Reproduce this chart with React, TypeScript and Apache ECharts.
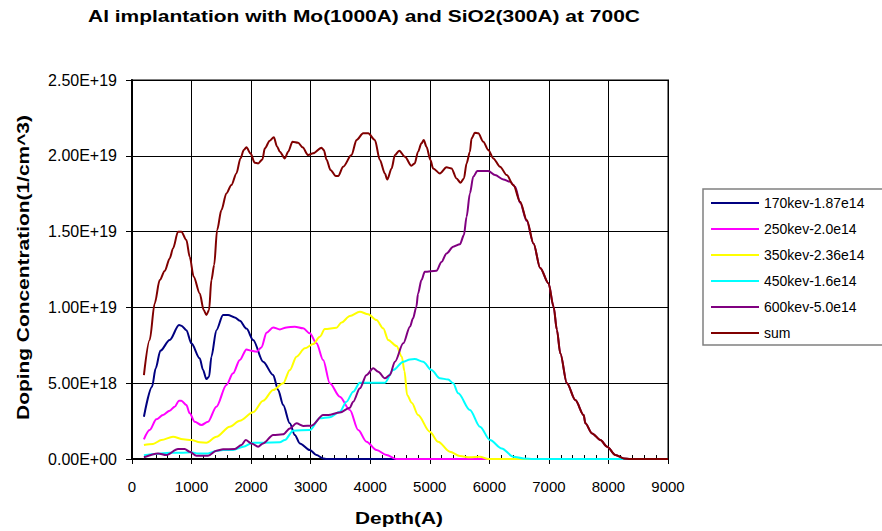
import React, { useEffect, useRef } from "react";
import * as echarts from "echarts";

const TITLE = "Al implantation with Mo(1000A) and SiO2(300A) at 700C";
const X_NAME = "Depth(A)";
const Y_NAME = "Doping Concentration(1/cm^3)";
const FONT = '"Liberation Sans", Arial, sans-serif';
const UNIT = 1e18;

const seriesNames = ["170kev-1.87e14", "250kev-2.0e14", "350kev-2.36e14", "450kev-1.6e14", "600kev-5.0e14", "sum"];
const seriesColors = ["#000080", "#FF00FF", "#FFFF00", "#00FFFF", "#800080", "#800000"];

// depth (A) and concentration (units of 1e18 /cm^3)
const depth170 = [200, 336, 398, 476, 633, 790, 829, 913, 997, 1137, 1193, 1249, 1294, 1333, 1417, 1529, 1613, 1725, 1810, 1922, 2034, 2202, 2370, 2454, 2538, 2650, 2734, 2818, 2986, 3098, 3210, 3266, 9000];
const conc170 = [2.79, 4.77, 5.98, 7.14, 7.85, 8.84, 8.79, 8.5, 7.63, 6.64, 5.87, 5.27, 5.43, 6.75, 8.5, 9.5, 9.5, 9.34, 9.12, 8.6, 7.85, 6.42, 5.54, 4.55, 3.56, 2.35, 1.58, 1.03, 0.59, 0.26, 0.04, 0, 0];

const depth250 = [200, 297, 409, 521, 633, 717, 790, 829, 913, 969, 1053, 1165, 1277, 1417, 1585, 1697, 1810, 1922, 2006, 2090, 2174, 2258, 2370, 2482, 2594, 2734, 2874, 2986, 3098, 3210, 3322, 3490, 3658, 3798, 3938, 4106, 4274, 4442, 9000];
const conc250 = [1.3, 1.91, 2.62, 2.9, 3.19, 3.45, 3.85, 3.85, 3.56, 3.01, 2.46, 2.24, 2.46, 3.45, 4.88, 5.65, 6.53, 7.23, 7.14, 7.08, 7.36, 8.33, 8.68, 8.55, 8.68, 8.73, 8.62, 8.29, 7.63, 6.53, 4.99, 4.11, 3.23, 1.91, 1.14, 0.59, 0.26, 0, 0];

const depth350 = [200, 353, 493, 689, 857, 997, 1137, 1249, 1417, 1641, 1810, 2034, 2202, 2370, 2538, 2650, 2762, 2902, 3042, 3154, 3238, 3434, 3518, 3658, 3826, 3966, 4106, 4218, 4302, 4442, 4530, 4575, 4620, 4700, 4803, 5000, 5140, 5337, 5506, 5674, 5843, 5983, 9000];
const conc350 = [0.92, 0.99, 1.25, 1.47, 1.3, 1.25, 1.1, 1.08, 1.47, 2.13, 2.53, 3.08, 3.85, 4.55, 4.99, 5.87, 6.75, 7.3, 7.58, 8.07, 8.57, 8.66, 9.01, 9.43, 9.72, 9.54, 9.17, 8.62, 7.85, 7.45, 6.75, 5.8, 4.2, 3.7, 2.9, 1.8, 1.14, 0.48, 0.2, 0.11, 0.15, 0, 0];

const depth450 = [200, 409, 633, 857, 997, 1109, 1277, 1417, 1529, 1697, 1866, 2034, 2202, 2482, 2566, 2706, 2986, 3154, 3322, 3490, 3602, 3714, 3826, 3994, 4246, 4386, 4555, 4667, 4747, 4888, 5028, 5169, 5309, 5393, 5478, 5674, 5843, 6011, 6208, 6404, 6573, 6742, 9000];
const conc450 = [0.24, 0.33, 0.42, 0.42, 0.44, 0.37, 0.37, 0.53, 0.59, 0.59, 0.81, 1.08, 1.08, 1.1, 1.25, 1.87, 1.91, 2.68, 2.75, 3.12, 3.78, 4.44, 5.03, 5.03, 5.03, 5.87, 6.42, 6.57, 6.59, 6.42, 5.87, 5.32, 5.25, 4.99, 4.33, 3.23, 2.13, 1.25, 0.7, 0.15, 0.04, 0, 0];

const depth600 = [200, 437, 577, 773, 885, 969, 1081, 1277, 1417, 1529, 1725, 1838, 1910, 2006, 2118, 2202, 2370, 2538, 2650, 2762, 2874, 3014, 3210, 3294, 3490, 3658, 3714, 3826, 3938, 4050, 4134, 4246, 4330, 4415, 4555, 4667, 4719, 4775, 4803, 4860, 4916, 5112, 5197, 5281, 5393, 5506, 5573, 5618, 5674, 5730, 5798, 5983, 6095, 6236, 6348, 6433, 6517, 6629, 6742, 6854, 6994, 7079, 7135, 7191, 7303, 7444, 7584, 7612, 7725, 7865, 7978, 8118, 8258, 8371, 9000];
const conc600 = [0.11, 0.37, 0.26, 0.66, 0.66, 0.48, 0.22, 0.22, 0.55, 0.64, 0.66, 0.92, 1.25, 1.03, 0.81, 1.03, 1.58, 1.63, 2.02, 2.35, 2.18, 2.2, 2.9, 2.9, 3.06, 3.38, 3.78, 4.66, 5.54, 5.98, 5.76, 5.32, 5.54, 6.42, 7.63, 8.73, 9.28, 10.05, 10.92, 11.8, 12.35, 12.42, 13.0, 13.56, 14.0, 14.17, 14.77, 15.98, 17.52, 18.62, 19.0, 19.0, 18.73, 18.44, 18.29, 17.96, 16.9, 15.7, 14.2, 12.6, 11.58, 10.05, 8.51, 6.97, 4.99, 3.89, 2.9, 2.35, 1.69, 1.25, 0.81, 0.26, 0.04, 0, 0];

const depthSum = [200, 297, 381, 465, 549, 633, 689, 773, 829, 913, 969, 1036, 1137, 1204, 1249, 1294, 1333, 1380, 1429, 1501, 1585, 1669, 1753, 1821, 1877, 1922, 1989, 2062, 2118, 2190, 2230, 2314, 2381, 2437, 2482, 2566, 2622, 2695, 2790, 2863, 2958, 3042, 3182, 3221, 3266, 3333, 3423, 3462, 3546, 3686, 3770, 3882, 3966, 4078, 4162, 4246, 4286, 4359, 4415, 4487, 4583, 4691, 4747, 4803, 4860, 4899, 4944, 5011, 5056, 5169, 5281, 5365, 5449, 5517, 5573, 5618, 5674, 5702, 5758, 5815, 5899, 5983, 6067, 6180, 6292, 6404, 6517, 6629, 6742, 6854, 6994, 7079, 7135, 7191, 7303, 7444, 7584, 7612, 7725, 7865, 7978, 8118, 8258, 8371, 9000];
const concSum = [5.54, 7.85, 10.26, 11.8, 12.4, 13.23, 13.89, 14.99, 14.99, 14.44, 13.34, 12.02, 10.92, 9.83, 9.5, 9.83, 11.8, 12.8, 15.1, 16.42, 17.52, 18.07, 18.84, 19.83, 20.38, 20.56, 20.16, 19.54, 19.5, 19.76, 20.49, 21.0, 21.22, 20.6, 20.27, 19.83, 20.27, 20.93, 20.86, 20.56, 20.05, 20.16, 20.53, 20.38, 19.76, 19.06, 18.66, 18.66, 19.28, 20.05, 21.04, 21.48, 21.48, 21.04, 19.72, 18.84, 18.44, 19.17, 20.05, 20.34, 19.94, 19.35, 19.5, 20.27, 20.82, 21.04, 20.6, 19.72, 19.17, 18.84, 19.24, 19.17, 18.51, 18.22, 18.51, 19.5, 20.27, 21.15, 21.52, 21.48, 20.93, 20.38, 19.83, 19.28, 18.73, 18.07, 16.97, 15.76, 14.22, 12.6, 11.58, 10.05, 8.51, 6.97, 4.99, 3.89, 2.9, 2.35, 1.69, 1.25, 0.81, 0.26, 0.04, 0, 0];

const seriesDepths = [depth170, depth250, depth350, depth450, depth600, depthSum];
const seriesConcs = [conc170, conc250, conc350, conc450, conc600, concSum];

const xTicks = [0, 1000, 2000, 3000, 4000, 5000, 6000, 7000, 8000, 9000];

function fmtExp(v: number): string {
  if (v === 0) return "0.00E+00";
  const [m, e] = v.toExponential(2).split("e");
  const n = parseInt(e, 10);
  return m + "E" + (n < 0 ? "-" : "+") + String(Math.abs(n)).padStart(2, "0");
}

function fitScale(text: string, font: string, target: number, fallback: number): number {
  try {
    const ctx = document.createElement("canvas").getContext("2d");
    if (ctx) {
      ctx.font = font;
      const w = ctx.measureText(text).width;
      if (w > 0) return target / w;
    }
  } catch (e) {}
  return fallback;
}

export default function App() {
  const ref = useRef<HTMLDivElement>(null);
  useEffect(() => {
    if (!ref.current) return;
    const chart = echarts.init(ref.current, undefined, { renderer: "svg" });

    const titleFont = "bold 17px " + FONT;
    const xNameFont = "bold 16px " + FONT;
    const yNameFont = "bold 17px " + FONT;
    const titleScale = fitScale(TITLE, titleFont, 552, 1.1);
    const xNameScale = fitScale(X_NAME, xNameFont, 88, 1.3);
    const yNameScale = fitScale(Y_NAME, yNameFont, 305, 1.15);

    const series = seriesNames.map((name, i) => ({
      name,
      type: "line",
      xAxisIndex: 0,
      data: seriesDepths[i].map((x, j) => [x, seriesConcs[i][j] * UNIT]),
      showSymbol: false,
      symbol: "none",
      smooth: 0.3,
      smoothMonotone: "x",
      lineStyle: { color: seriesColors[i], width: 2 },
      itemStyle: { color: seriesColors[i] },
      z: 2 + i,
    }));

    chart.setOption({
      animation: false,
      backgroundColor: "#ffffff",
      textStyle: { fontFamily: FONT },
      graphic: [
        {
          type: "text",
          x: 88,
          y: 16.5,
          scaleX: titleScale,
          style: {
            text: TITLE,
            font: titleFont,
            fill: "#000",
            align: "left",
            verticalAlign: "middle",
          },
        },
        {
          type: "text",
          x: 399,
          y: 518,
          scaleX: xNameScale,
          style: {
            text: X_NAME,
            font: xNameFont,
            fill: "#000",
            align: "center",
            verticalAlign: "middle",
          },
        },
        {
          type: "text",
          x: 23,
          y: 267.5,
          rotation: Math.PI / 2,
          scaleX: yNameScale,
          style: {
            text: Y_NAME,
            font: yNameFont,
            fill: "#000",
            align: "center",
            verticalAlign: "middle",
          },
        },
      ],
      grid: {
        left: 132,
        right: 214,
        top: 80,
        bottom: 72,
        show: true,
        borderColor: "#808080",
        borderWidth: 2,
        backgroundColor: "transparent",
      },
      legend: {
        orient: "vertical",
        left: 703,
        top: 189,
        data: seriesNames,
        icon: "rect",
        itemWidth: 48,
        itemHeight: 2,
        itemGap: 10,
        padding: [6, 40, 4, 8],
        backgroundColor: "#fff",
        borderColor: "#808080",
        borderWidth: 1.5,
        textStyle: { fontSize: 14, color: "#000", fontFamily: FONT, lineHeight: 16 },
        selectedMode: false,
      },
      xAxis: [
        {
          type: "value",
          min: 0,
          max: 9000,
          interval: 1000,
          position: "bottom",
          axisLine: { show: true, lineStyle: { color: "#000", width: 2 } },
          axisTick: { show: true, inside: false, length: 5, lineStyle: { color: "#000", width: 1 } },
          axisLabel: {
            fontSize: 15,
            color: "#000",
            margin: 20,
            fontFamily: FONT,
            formatter: (v: number) => (xTicks.indexOf(v) >= 0 ? String(v) : ""),
          },
          splitLine: { show: true, lineStyle: { color: "#000", width: 1 } },
        },
        {
          type: "value",
          min: 0,
          max: 9000,
          interval: 1000,
          position: "bottom",
          axisLine: { show: false },
          axisLabel: { show: false },
          axisTick: { show: false, inside: true },
          splitLine: { show: false },
          minorTick: { show: true, splitNumber: 5, length: 4, lineStyle: { color: "#000", width: 1 } },
        },
      ],
      yAxis: {
        type: "value",
        min: 0,
        max: 2.5e19,
        interval: 5e18,
        axisLine: { show: true, lineStyle: { color: "#000", width: 2 } },
        axisTick: { show: true, inside: false, length: 6, lineStyle: { color: "#000", width: 1 } },
        axisLabel: { fontSize: 16, color: "#000", margin: 15, fontFamily: FONT, formatter: fmtExp },
        splitLine: { show: true, lineStyle: { color: "#000", width: 1 } },
      },
      series,
    });

    return () => chart.dispose();
  }, []);

  return (
    <div
      ref={ref}
      style={{ position: "absolute", left: 0, top: 0, width: 882, height: 531, background: "#fff" }}
    />
  );
}
